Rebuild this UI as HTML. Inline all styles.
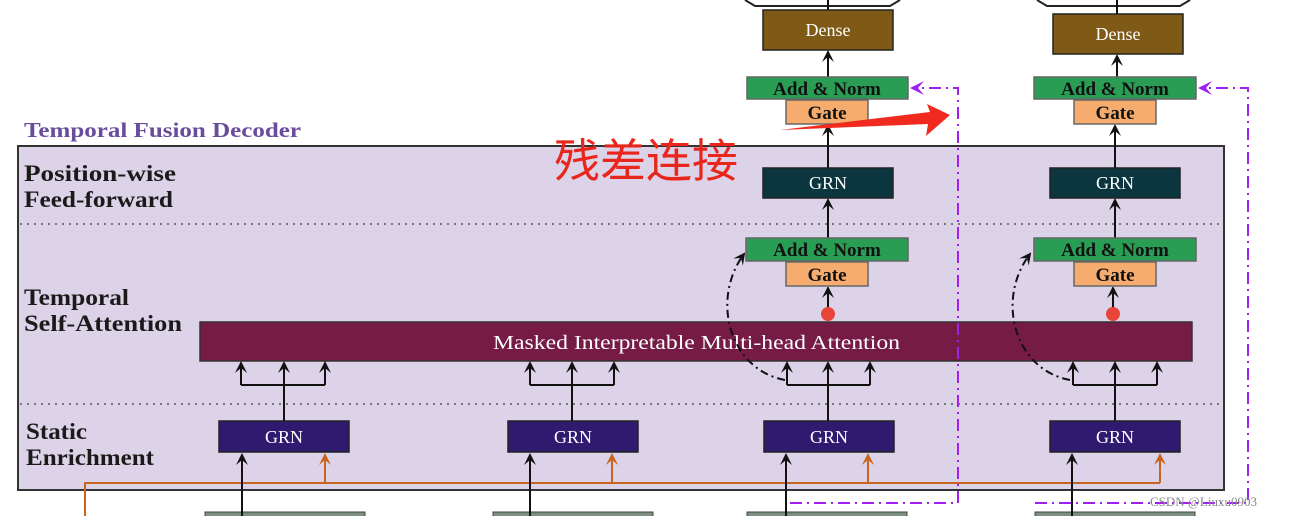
<!DOCTYPE html>
<html><head><meta charset="utf-8"><style>
html,body{margin:0;padding:0;background:#fff;}
svg{display:block}
text{font-family:"Liberation Serif",serif;}
.lbl{font-weight:bold;font-size:23px;fill:#1a1a1a}
.w{fill:#fff;font-size:18px;text-anchor:middle}
.b{fill:#111;font-size:19px;font-weight:bold;text-anchor:middle}
</style></head><body>
<svg width="1290" height="516" viewBox="0 0 1290 516" xmlns="http://www.w3.org/2000/svg">
<defs>
<marker id="a" markerWidth="12" markerHeight="12" refX="10" refY="6" orient="auto" markerUnits="userSpaceOnUse" viewBox="0 0 12 12">
<path d="M0,0 L12,6 L0,12 L5,6 Z" fill="#111"/></marker>
<marker id="o" markerWidth="12" markerHeight="12" refX="10" refY="6" orient="auto" markerUnits="userSpaceOnUse" viewBox="0 0 12 12">
<path d="M0,0 L12,6 L0,12 L5,6 Z" fill="#c8641e"/></marker>
<marker id="p" markerWidth="14" markerHeight="14" refX="12" refY="7" orient="auto" markerUnits="userSpaceOnUse" viewBox="0 0 14 14">
<path d="M0,0 L14,7 L0,14 L6,7 Z" fill="#a020f0"/></marker>
</defs>
<path d="M745,0 L755,6 L890,6 L900,0" fill="none" stroke="#222" stroke-width="2"/>
<path d="M1037,0 L1047,6 L1180,6 L1190,0" fill="none" stroke="#222" stroke-width="2"/>
<line x1="828" y1="0" x2="828" y2="10" stroke="#111" stroke-width="2"/>
<line x1="1117" y1="0" x2="1117" y2="14" stroke="#111" stroke-width="2"/>

<text x="24" y="137" font-size="21" font-weight="bold" fill="#6a4c9c" textLength="277" lengthAdjust="spacingAndGlyphs">Temporal Fusion Decoder</text>
<rect x="18" y="146" width="1206" height="344" fill="#dcd3e8" stroke="#333" stroke-width="2"/>
<line x1="20" y1="224" x2="1222" y2="224" stroke="#777" stroke-width="2" stroke-dasharray="2,5"/>
<line x1="20" y1="404" x2="1222" y2="404" stroke="#777" stroke-width="2" stroke-dasharray="2,5"/>
<text class="lbl" x="24" y="181" textLength="152" lengthAdjust="spacingAndGlyphs">Position-wise</text>
<text class="lbl" x="24" y="207" textLength="149" lengthAdjust="spacingAndGlyphs">Feed-forward</text>
<text class="lbl" x="24" y="305" textLength="105" lengthAdjust="spacingAndGlyphs">Temporal</text>
<text class="lbl" x="24" y="331" textLength="158" lengthAdjust="spacingAndGlyphs">Self-Attention</text>
<text class="lbl" x="26" y="439" textLength="61" lengthAdjust="spacingAndGlyphs">Static</text>
<text class="lbl" x="26" y="465" textLength="128" lengthAdjust="spacingAndGlyphs">Enrichment</text>

<rect x="200" y="322" width="992" height="39" fill="#751b45" stroke="#333" stroke-width="1.5"/>
<text x="493" y="349" font-size="20" fill="#fff" textLength="407" lengthAdjust="spacingAndGlyphs">Masked Interpretable Multi-head Attention</text>

<path d="M85,516 L85,483 L1160,483" fill="none" stroke="#c8641e" stroke-width="2"/>
<g stroke="#c8641e" stroke-width="2" marker-end="url(#o)">
<line x1="325" y1="483" x2="325" y2="455"/><line x1="612" y1="483" x2="612" y2="455"/>
<line x1="868" y1="483" x2="868" y2="455"/><line x1="1160" y1="483" x2="1160" y2="455"/>
</g>

<g fill="#7a8f80" stroke="#444"><rect x="205" y="512" width="160" height="8"/><rect x="493" y="512" width="160" height="8"/><rect x="747" y="512" width="160" height="8"/><rect x="1035" y="512" width="160" height="8"/></g>

<g stroke="#111" stroke-width="2" fill="none">
<line x1="242" y1="516" x2="242" y2="455" marker-end="url(#a)"/>
<line x1="530" y1="516" x2="530" y2="455" marker-end="url(#a)"/>
<line x1="786" y1="516" x2="786" y2="455" marker-end="url(#a)"/>
<line x1="1072" y1="516" x2="1072" y2="455" marker-end="url(#a)"/>
<line x1="284" y1="421" x2="284" y2="363" marker-end="url(#a)"/>
<path d="M241,385 L325,385"/><line x1="241" y1="385" x2="241" y2="363" marker-end="url(#a)"/><line x1="325" y1="385" x2="325" y2="363" marker-end="url(#a)"/>
<line x1="572" y1="421" x2="572" y2="363" marker-end="url(#a)"/>
<path d="M530,385 L614,385"/><line x1="530" y1="385" x2="530" y2="363" marker-end="url(#a)"/><line x1="614" y1="385" x2="614" y2="363" marker-end="url(#a)"/>
<line x1="828" y1="421" x2="828" y2="363" marker-end="url(#a)"/>
<path d="M787,385 L870,385"/><line x1="787" y1="385" x2="787" y2="363" marker-end="url(#a)"/><line x1="870" y1="385" x2="870" y2="363" marker-end="url(#a)"/>
<line x1="1115" y1="421" x2="1115" y2="363" marker-end="url(#a)"/>
<path d="M1073,385 L1157,385"/><line x1="1073" y1="385" x2="1073" y2="363" marker-end="url(#a)"/><line x1="1157" y1="385" x2="1157" y2="363" marker-end="url(#a)"/>
<line x1="828" y1="314" x2="828" y2="288" marker-end="url(#a)"/>
<line x1="1113" y1="314" x2="1113" y2="288" marker-end="url(#a)"/>
<line x1="828" y1="238" x2="828" y2="200" marker-end="url(#a)"/>
<line x1="1115" y1="238" x2="1115" y2="200" marker-end="url(#a)"/>
<line x1="828" y1="168" x2="828" y2="126" marker-end="url(#a)"/>
<line x1="1115" y1="168" x2="1115" y2="126" marker-end="url(#a)"/>
<line x1="828" y1="77" x2="828" y2="52" marker-end="url(#a)"/>
<line x1="1117" y1="77" x2="1117" y2="56" marker-end="url(#a)"/>
<path d="M785,380 C730,370 710,300 744,254" stroke-dasharray="8,4,2,4" marker-end="url(#a)"/>
<path d="M1070,380 C1015,370 995,300 1030,254" stroke-dasharray="8,4,2,4" marker-end="url(#a)"/>
</g>
<circle cx="828" cy="314" r="7" fill="#e8443a"/>
<circle cx="1113" cy="314" r="7" fill="#e8443a"/>

<g stroke="#222" stroke-width="1.5" fill="#2e1a6e">
<rect x="219" y="421" width="130" height="31"/><rect x="508" y="421" width="130" height="31"/>
<rect x="764" y="421" width="130" height="31"/><rect x="1050" y="421" width="130" height="31"/></g>
<text class="w" x="284" y="443">GRN</text><text class="w" x="573" y="443">GRN</text>
<text class="w" x="829" y="443">GRN</text><text class="w" x="1115" y="443">GRN</text>

<g stroke="#666" stroke-width="1.5">
<rect x="746" y="238" width="162" height="23" fill="#2a9d55"/><rect x="786" y="262" width="82" height="24" fill="#f5ac6e"/>
<rect x="1034" y="238" width="162" height="23" fill="#2a9d55"/><rect x="1074" y="262" width="82" height="24" fill="#f5ac6e"/>
<rect x="747" y="77" width="161" height="22" fill="#2a9d55"/><rect x="786" y="100" width="82" height="24" fill="#f5ac6e"/>
<rect x="1034" y="77" width="162" height="22" fill="#2a9d55"/><rect x="1074" y="100" width="82" height="24" fill="#f5ac6e"/>
</g>
<text class="b" x="827" y="256">Add &amp; Norm</text><text class="b" x="827" y="281">Gate</text>
<text class="b" x="1115" y="256">Add &amp; Norm</text><text class="b" x="1115" y="281">Gate</text>
<text class="b" x="827" y="95">Add &amp; Norm</text><text class="b" x="827" y="119">Gate</text>
<text class="b" x="1115" y="95">Add &amp; Norm</text><text class="b" x="1115" y="119">Gate</text>

<g stroke="#222" stroke-width="1.5" fill="#0b3640">
<rect x="763" y="168" width="130" height="30"/><rect x="1050" y="168" width="130" height="30"/></g>
<text class="w" x="828" y="189">GRN</text><text class="w" x="1115" y="189">GRN</text>

<g stroke="#222" stroke-width="1.5" fill="#7f5a17">
<rect x="763" y="10" width="130" height="40"/><rect x="1053" y="14" width="130" height="40"/></g>
<text class="w" x="828" y="36" font-size="19">Dense</text><text class="w" x="1118" y="40" font-size="19">Dense</text>

<g stroke="#a020f0" stroke-width="2" fill="none" stroke-dasharray="12,5,2,5">
<path d="M790,503 L958,503 L958,88 L912,88" marker-end="url(#p)"/>
<path d="M1035,503 L1248,503 L1248,88 L1200,88" marker-end="url(#p)"/>
</g>

<text x="554" y="177" font-size="46" fill="#e8261c" font-family="'Noto Sans CJK SC',sans-serif">残差连接</text>
<path d="M780,130 L930,112 L927,104 L950,115 L926,136 L928,124 Z" fill="#f02a1f"/>
<text x="1150" y="506" font-size="13" fill="#888" font-family="'Liberation Sans',sans-serif">CSDN @Liuxu0903</text>
</svg>
</body></html>
